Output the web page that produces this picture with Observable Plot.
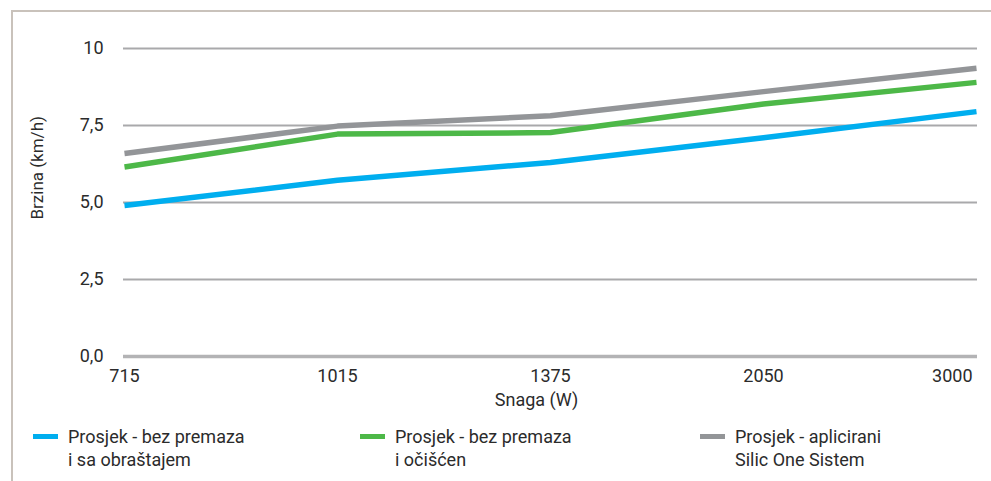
<!DOCTYPE html>
<html>
<head>
<meta charset="utf-8">
<script src="https://cdn.jsdelivr.net/npm/d3@7"></script>
<script src="https://cdn.jsdelivr.net/npm/@observablehq/plot@0.6"></script>
<style>
  html, body { margin: 0; padding: 0; background: #fff; }
  body { width: 991px; height: 481px; overflow: hidden; position: relative; font-family: Roboto, "Liberation Sans", sans-serif; color: #2b2b2b; }
  #frame { position: absolute; left: 11px; top: 10px; right: 0; bottom: 0; border-top: 2px solid #c9c2bb; border-left: 2px solid #c9c2bb; pointer-events: none; }
  #chart { position: absolute; left: 0; top: 0; }
  #legend { position: absolute; left: 0; top: 425px; width: 991px; height: 50px; }
  .item { position: absolute; top: 0; display: flex; align-items: flex-start; }
  .sw { width: 25px; height: 5px; margin-top: 9px; margin-right: 10px; }
  .lbl { font-size: 18px; line-height: 23px; color: #2b2b2b; }
</style>
</head>
<body>
<div id="chart"></div>
<div id="legend"></div>
<div id="frame"></div>
<script>
const categories = ["715", "1015", "1375", "2050", "3000"];
const seriesNames = [
  "Prosjek - bez premaza\ni sa obraštajem",
  "Prosjek - bez premaza\ni očišćen",
  "Prosjek - aplicirani\nSilic One Sistem"
];
const blueValues = [4.9, 5.72, 6.3, 7.1, 7.95];
const greenValues = [6.15, 7.22, 7.27, 8.2, 8.9];
const grayValues = [6.59, 7.48, 7.82, 8.6, 9.36];
const yTicks = [0, 2.5, 5, 7.5, 10];
const colors = ["#00aeef", "#4db848", "#939598"];

const allSeries = [blueValues, greenValues, grayValues];
const data = allSeries.flatMap((vals, si) =>
  vals.map((v, i) => ({ cat: categories[i], value: v, series: seriesNames[si] }))
);

const fmt = d => d === 10 ? "10" : d.toFixed(1).replace(".", ",");

const chart = Plot.plot({
  width: 991,
  height: 415,
  marginTop: 48,
  marginBottom: 59,
  marginLeft: 123,
  marginRight: 14,
  style: { fontFamily: "Roboto, 'Liberation Sans', sans-serif", fontSize: "18px", color: "#2b2b2b", background: "transparent" },
  x: { type: "point", domain: categories, padding: 0 },
  y: { domain: [0, 10] },
  color: { domain: seriesNames, range: colors },
  marks: [
    Plot.gridY(yTicks.filter(d => d !== 0), { stroke: "#a9a9ab", strokeOpacity: 1, strokeWidth: 2 }),
    Plot.ruleY([0], { stroke: "#b3b3b5", strokeWidth: 3.5 }),
    Plot.axisY(yTicks, { tickSize: 0, tickPadding: 20, tickFormat: fmt, label: null, fill: "#2b2b2b" }),
    Plot.axisX(categories.slice(0, 4), { tickSize: 0, tickPadding: 13, label: null, fill: "#2b2b2b" }),
    Plot.axisX(categories.slice(4), { tickSize: 0, tickPadding: 13, label: null, textAnchor: "end", dx: -4, fill: "#2b2b2b" }),
    Plot.text(["Snaga (W)"], { frameAnchor: "bottom", dy: 49, dx: -14, fontSize: 18, fill: "#2b2b2b" }),
    Plot.text(["Brzina (km/h)"], { frameAnchor: "left", rotate: -90, dx: -86, dy: 17, fontSize: 17, fill: "#2b2b2b" }),
    Plot.line(data, { x: "cat", y: "value", stroke: "series", strokeWidth: 5.5, strokeLinejoin: "round", strokeLinecap: "butt" })
  ]
});
document.getElementById("chart").appendChild(chart);

const legendPos = [33, 360, 700];
const legend = document.getElementById("legend");
seriesNames.forEach((name, i) => {
  const item = document.createElement("div");
  item.className = "item";
  item.style.left = legendPos[i] + "px";
  const sw = document.createElement("div");
  sw.className = "sw";
  sw.style.background = colors[i];
  const lbl = document.createElement("div");
  lbl.className = "lbl";
  lbl.innerHTML = name.split("\n").join("<br>");
  item.appendChild(sw);
  item.appendChild(lbl);
  legend.appendChild(item);
});
</script>
</body>
</html>
